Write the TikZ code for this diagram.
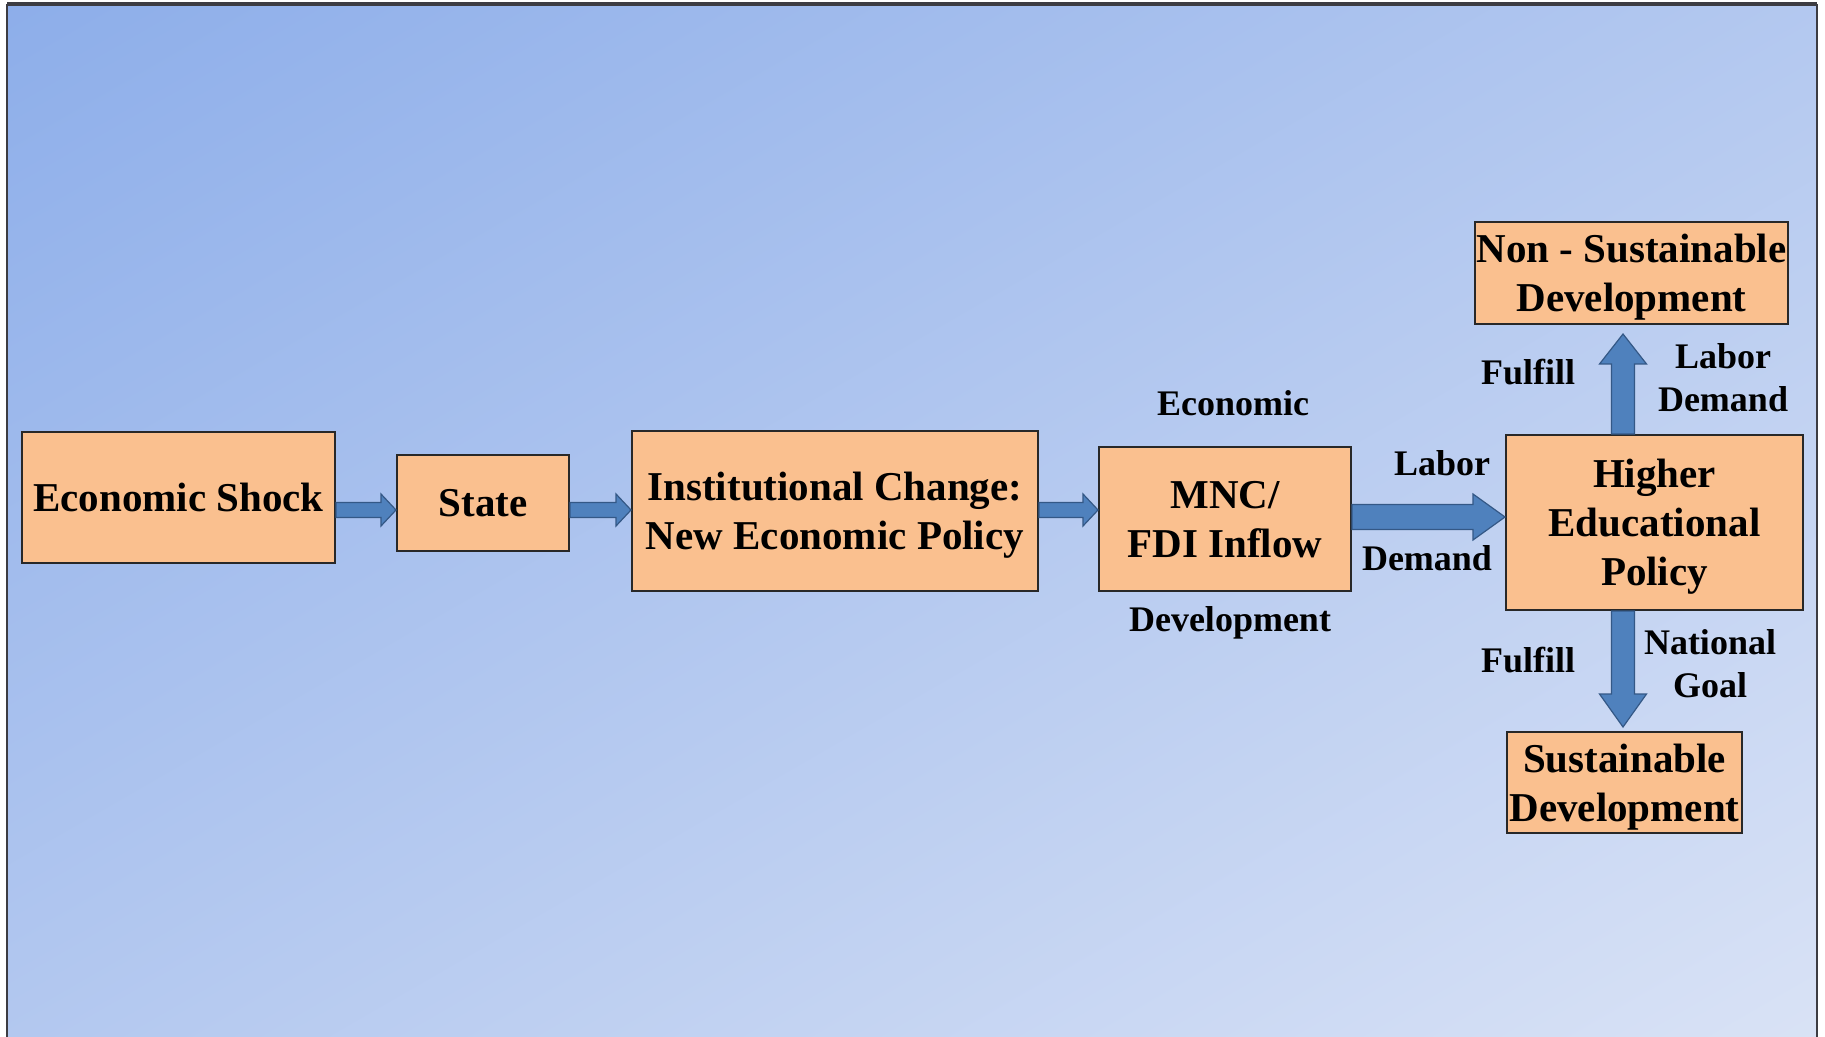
\documentclass[tikz,border=0pt]{standalone}
\usepackage{fontspec}
\setmainfont{Liberation Serif}
\usetikzlibrary{calc}

\definecolor{bgdark}{RGB}{124,162,231}
\definecolor{bglight}{RGB}{234,238,248}
\definecolor{framedark}{RGB}{60,60,66}
\definecolor{boxfill}{RGB}{250,192,143}
\definecolor{boxline}{RGB}{40,40,40}
\definecolor{arrowfill}{RGB}{79,129,189}
\definecolor{arrowline}{RGB}{52,88,134}

\pgfdeclareverticalshading{bgshade}{100bp}{color(0bp)=(bglight); color(100bp)=(bgdark)}

\tikzset{
  blockbox/.style={draw=boxline, line width=1pt, fill=boxfill, align=center, inner sep=0.75pt,
    text depth=0pt, font=\fontsize{20.5}{24.5}\selectfont\bfseries},
  lbl/.style={align=center, inner sep=0.75pt, font=\fontsize{18}{21.5}\selectfont\bfseries},
  blockarrow/.style={fill=arrowfill, draw=arrowline, line width=0.6pt},
}

% block arrow, horizontal: from, to, shaft half width, head half width, head length
\newcommand{\hblockarrow}[5]{%
  \path[blockarrow] let \p1=(#1), \p2=(#2), \p3=($(#2)!#5!(#1)$) in
    ({\x1},{\y1+#3}) -- ({\x3},{\y1+#3}) -- ({\x3},{\y1+#4}) -- ({\x2},{\y1})
    -- ({\x3},{\y1-#4}) -- ({\x3},{\y1-#3}) -- ({\x1},{\y1-#3}) -- cycle;}
% block arrow, vertical: from, to, shaft half width, head half width, head length
\newcommand{\vblockarrow}[5]{%
  \path[blockarrow] let \p1=(#1), \p2=(#2), \p3=($(#2)!#5!(#1)$) in
    ({\x1-#3},{\y1}) -- ({\x1-#3},{\y3}) -- ({\x1-#4},{\y3}) -- ({\x1},{\y2})
    -- ({\x1+#4},{\y3}) -- ({\x1+#3},{\y3}) -- ({\x1+#3},{\y1}) -- cycle;}

\begin{document}
\begin{tikzpicture}[x=0.5pt,y=0.5pt,yscale=-1,xscale=1]
    \useasboundingbox (0,0) rectangle (1825,1037);

    %Shape: Background
    \shade[shading=bgshade, shading angle=30] (7,5) rectangle (1817,1037);
    %Shape: Frame
    \draw[framedark, line width=1.1pt] (7,1045) -- (7,5) -- (1817,5) -- (1817,1045);
    \draw[framedark, line width=1.6pt] (7,4) -- (1817,4);

    % Boxes
    \node[blockbox, minimum width=156.5pt, minimum height=65.5pt] (shock) at (178.5,497.5) {Economic Shock};
    \node[blockbox, minimum width=86pt, minimum height=48pt] (state) at (483,503) {State};
    \node[blockbox, minimum width=203pt, minimum height=80pt] (inst) at (835,511) {Institutional Change:\\New Economic Policy};
    \node[blockbox, minimum width=126pt, minimum height=72pt] (mnc) at (1225,519) {MNC/\\FDI Inflow};
    \node[blockbox, minimum width=148.5pt, minimum height=87.5pt] (hep) at (1654.5,522.5) {Higher\\Educational\\Policy};
    \node[blockbox, minimum width=156.5pt, minimum height=51pt] (nonsus) at (1631.5,273) {Non - Sustainable\\Development};
    \node[blockbox, minimum width=117.5pt, minimum height=50.5pt] (sus) at (1624.5,782.5) {Sustainable\\Development};

    % Arrow lines
    \coordinate (rowa) at (0,510);
    \coordinate (rowb) at (0,517);
    \coordinate (colc) at (1623,0);
    \hblockarrow{shock.east |- rowa}{state.west |- rowa}{3.75pt}{8pt}{7.5pt}
    \hblockarrow{state.east |- rowa}{inst.west |- rowa}{3.75pt}{8pt}{7.5pt}
    \hblockarrow{inst.east |- rowa}{mnc.west |- rowa}{3.75pt}{8pt}{7.5pt}
    \hblockarrow{mnc.east |- rowb}{hep.west |- rowb}{6.25pt}{11.5pt}{16pt}
    \vblockarrow{colc |- hep.north}{$(colc |- nonsus.south)+(0,9)$}{5.75pt}{11.75pt}{15pt}
    \vblockarrow{colc |- hep.south}{$(colc |- sus.north)+(0,-4)$}{5.75pt}{11.75pt}{16.5pt}

    % Text Node
    \node[lbl] (econlbl) at (1233,403) {Economic};
    % Text Node
    \node[lbl] (devlbl) at (1230,623) {Development};
    % Text Node
    \node[lbl] (laborlbl) at (1442,463) {Labor};
    % Text Node
    \node[lbl] (demandlbl) at (1427,558) {Demand};
    % Text Node
    \node[lbl] (fulfilltop) at (1528,372) {Fulfill};
    % Text Node
    \node[lbl] (labordem) at (1723,378) {Labor\\Demand};
    % Text Node
    \node[lbl] (fulfillbot) at (1528,660) {Fulfill};
    % Text Node
    \node[lbl] (natgoal) at (1710,664) {National\\Goal};

\end{tikzpicture}
\end{document}
